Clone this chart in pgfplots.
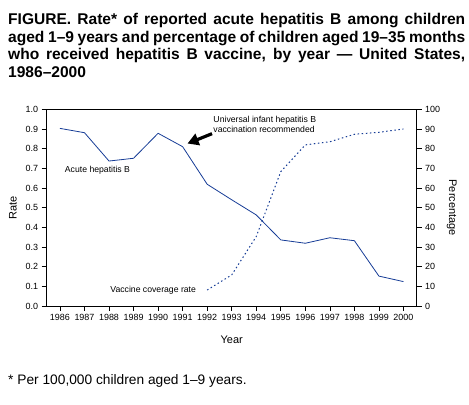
\documentclass[border=0pt]{standalone}
\usepackage{fontspec}
\setmainfont{Liberation Sans}
\usepackage{pgfplots}
\usepackage{pgfplotstable}
\pgfplotsset{compat=1.18}
\usetikzlibrary{arrows.meta}
\definecolor{lineblue}{RGB}{22,60,150}

\pgfplotstableread{
year rate
1986 0.903
1987 0.881
1988 0.737
1989 0.751
1990 0.878
1991 0.810
1992 0.619
1993 0.540
1994 0.463
1995 0.336
1996 0.319
1997 0.347
1998 0.332
1999 0.152
2000 0.124
}\ratetable

\pgfplotstableread{
year pct
1992 8.1
1993 15.8
1994 35.3
1995 68.3
1996 81.9
1997 83.5
1998 87.3
1999 88.3
2000 90.0
}\vaccinetable

\newcommand{\titleline}[1]{\makebox[457bp][s]{#1}}

\begin{document}
\begin{tikzpicture}
\useasboundingbox (0,0) rectangle (469bp,405bp);
\pgfplotsset{
  common/.style={
    at={(46.7bp,99bp)}, anchor=south west,
    scale only axis, width=370bp, height=196.7bp,
    xmin=1985.46, xmax=2000.54,
    tick align=outside,
    major tick length=5bp,
    tick style={black, line width=0.6bp},
    axis line style={line width=0.8bp, -},
    ticklabel style={font=\fontsize{9}{10}\selectfont},
    label style={font=\fontsize{11}{13}\selectfont},
    /pgf/number format/assume math mode=true,
  }
}
\begin{axis}[common,
  ymin=0, ymax=1,
  xtick={1986,1987,...,2000},
  ytick={0,0.1,0.2,0.3,0.4,0.5,0.6,0.7,0.8,0.9,1.0},
  xtick pos=bottom, ytick pos=left,
  x tick label style={/pgf/number format/1000 sep={}},
  y tick label style={/pgf/number format/.cd, fixed, fixed zerofill, precision=1},
  xlabel={Year}, ylabel={Rate},
  xlabel style={at={(axis description cs:0.5,-0.173)}, anchor=center},
  ylabel style={at={(axis description cs:-0.091,0.5)}, anchor=center, rotate=0},
]
\addplot[lineblue, line width=0.8bp] table[x=year, y=rate] {\ratetable};
\node[font=\fontsize{8.7}{10}\selectfont] at (axis cs:1987.53,0.691) {Acute hepatitis B};
\node[font=\fontsize{8.7}{10}\selectfont] at (axis cs:1989.8,0.081) {Vaccine coverage rate};
\node[font=\fontsize{8.7}{10}\selectfont, anchor=west, inner sep=0pt] at (axis cs:1992.25,0.946) {Universal infant hepatitis B};
\node[font=\fontsize{8.7}{10}\selectfont, anchor=west, inner sep=0pt] at (axis cs:1992.25,0.898) {vaccination recommended};
\draw[line width=3.2bp, -{Triangle[length=11bp,width=12bp]}] (axis cs:1992.2,0.876) -- (axis cs:1991.2,0.826);
\end{axis}
\begin{axis}[common,
  ymin=0, ymax=100,
  hide x axis,
  axis y line*=right,
  ytick={0,10,...,100},
  ylabel={Percentage},
  ylabel style={at={(axis description cs:1.095,0.5)}, anchor=center, rotate=180},
]
\addplot[lineblue, line width=1bp, dash pattern=on 1.5bp off 2.6bp] table[x=year, y=pct] {\vaccinetable};
\end{axis}
\node[anchor=base west, inner sep=0pt, font=\fontsize{15.6}{17}\bfseries] at (8bp,380bp) {\titleline{FIGURE. Rate* of reported acute hepatitis B among children}};
\node[anchor=base west, inner sep=0pt, font=\fontsize{15.6}{17}\bfseries] at (8bp,362.5bp) {\titleline{aged 1–9 years and percentage of children aged 19–35 months}};
\node[anchor=base west, inner sep=0pt, font=\fontsize{15.6}{17}\bfseries] at (8bp,345bp) {\titleline{who received hepatitis B vaccine, by year — United States,}};
\node[anchor=base west, inner sep=0pt, font=\fontsize{15.6}{17}\bfseries] at (8bp,327.5bp) {1986–2000};
\node[anchor=base west, inner sep=0pt, font=\fontsize{13.8}{15}\selectfont] at (8bp,21bp) {* Per 100,000 children aged 1–9 years.};
\end{tikzpicture}
\end{document}
